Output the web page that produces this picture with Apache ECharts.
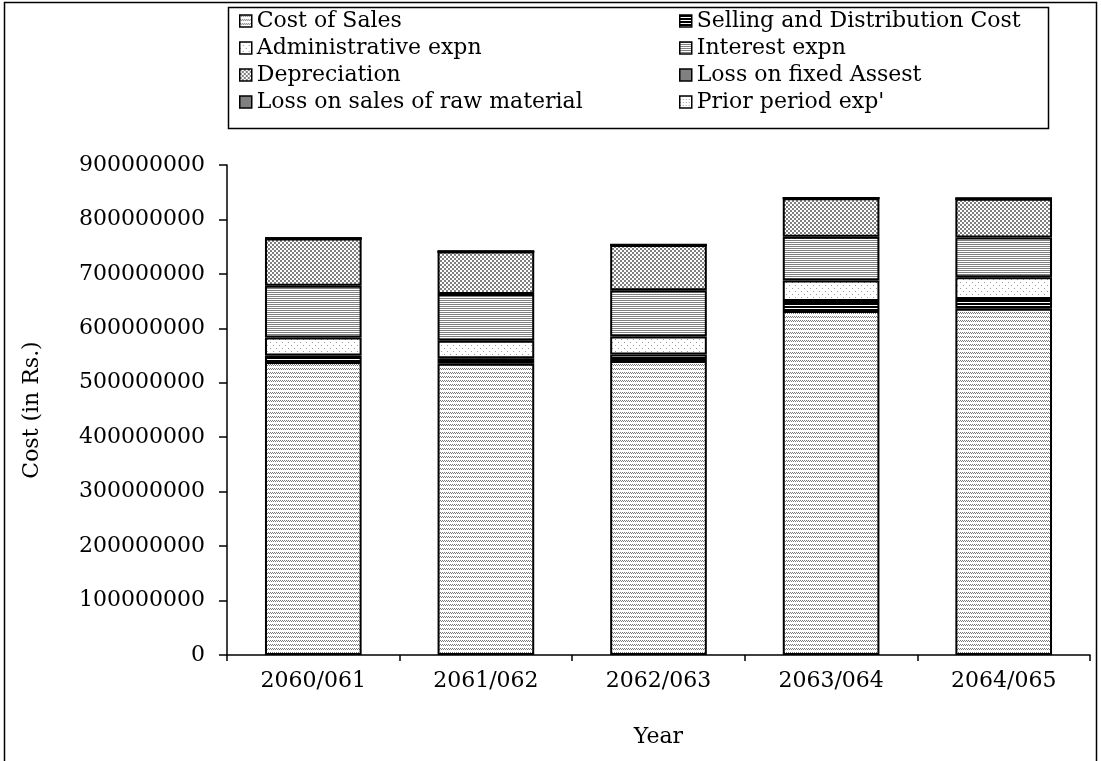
<!DOCTYPE html>
<html>
<head>
<meta charset="utf-8">
<script src="https://cdn.jsdelivr.net/npm/echarts@6/dist/echarts.min.js"></script>
<style>
html,body{margin:0;padding:0;background:#fff;}
#chart{width:1101px;height:761px;}
</style>
</head>
<body>
<div id="chart"></div>
<script>
const categories = ['2060/061', '2061/062', '2062/063', '2063/064', '2064/065'];
const costOfSales = [538000000, 535000000, 540000000, 632000000, 636000000];
const sellingDist = [12000000, 10000000, 12000000, 18000000, 18000000];
const adminExpn = [33000000, 32000000, 33000000, 38000000, 40000000];
const interestExpn = [95000000, 86000000, 85000000, 80000000, 73000000];
const depreciation = [87000000, 78000000, 83000000, 71000000, 71000000];
const lossFixedAsset = [200000, 200000, 200000, 300000, 300000];
const lossRawMaterial = [100000, 100000, 100000, 100000, 100000];
const priorPeriod = [100000, 100000, 100000, 200000, 200000];
const yTicks = [0, 100000000, 200000000, 300000000, 400000000, 500000000, 600000000, 700000000, 800000000, 900000000];

function pat(w, h, fn) {
  const c = document.createElement('canvas');
  c.width = w; c.height = h;
  const ctx = c.getContext('2d');
  ctx.fillStyle = '#fff';
  ctx.fillRect(0, 0, w, h);
  fn(ctx);
  return { image: c, repeat: 'repeat' };
}
const P = {
  cos: pat(4, 4, ctx => { ctx.fillStyle = '#7a7a7a'; ctx.fillRect(0,0,1,1); ctx.fillRect(2,0,1,1); ctx.fillRect(1,1,1,1); ctx.fillRect(3,1,1,1); }),
  sell: pat(2, 3, ctx => { ctx.fillStyle = '#000'; ctx.fillRect(0,0,2,2); }),
  admin: pat(6, 6, ctx => { ctx.fillStyle = '#9a9a9a'; ctx.fillRect(0,0,1,1); ctx.fillRect(3,3,1,1); }),
  interest: pat(2, 2, ctx => { ctx.fillStyle = '#808080'; ctx.fillRect(0,0,2,1); }),
  dep: pat(4, 4, ctx => { ctx.fillStyle = '#808080'; ctx.fillRect(0,0,2,2); ctx.fillRect(2,2,2,2); }),
  fixed: '#808080',
  raw: '#808080',
  prior: pat(3, 3, ctx => { ctx.fillStyle = '#a0a0a0'; ctx.fillRect(0,0,1,1); })
};

const seriesDefs = [
  ['Cost of Sales', costOfSales, P.cos],
  ['Selling and Distribution Cost', sellingDist, P.sell],
  ['Administrative expn', adminExpn, P.admin],
  ['Interest expn', interestExpn, P.interest],
  ['Depreciation', depreciation, P.dep],
  ['Loss on fixed Assest', lossFixedAsset, P.fixed],
  ['Loss on sales of raw material', lossRawMaterial, P.raw],
  ["Prior period exp'", priorPeriod, P.prior]
];

const FONT = 'DejaVu Serif';
const FS = 22;
const chart = echarts.init(document.getElementById('chart'), null, { renderer: 'canvas' });

const legendCommon = {
  orient: 'vertical',
  top: 5,
  itemWidth: 12,
  itemHeight: 12,
  itemGap: 5,
  icon: 'rect',
  selectedMode: false,
  itemStyle: { borderColor: '#000', borderWidth: 1.5 },
  textStyle: { fontFamily: FONT, fontSize: FS, color: '#000', padding: [0, 0, 0, 0] }
};

chart.setOption({
  animation: false,
  backgroundColor: '#fff',
  legend: [
    Object.assign({}, legendCommon, { left: 234, data: ['Cost of Sales', 'Administrative expn', 'Depreciation', 'Loss on sales of raw material'] }),
    Object.assign({}, legendCommon, { left: 674, data: ['Selling and Distribution Cost', 'Interest expn', 'Loss on fixed Assest', "Prior period exp'"] })
  ],
  graphic: [
    { type: 'rect', shape: { x: 4.5, y: 2.5, width: 1092, height: 762 }, style: { fill: 'none', stroke: '#000', lineWidth: 1.5 }, silent: true },
    { type: 'rect', shape: { x: 228.5, y: 7.5, width: 820, height: 121 }, style: { fill: 'none', stroke: '#000', lineWidth: 1.5 }, silent: true }
  ],
  grid: { left: 227, right: 11, top: 165, bottom: 106 },
  xAxis: {
    type: 'category',
    data: categories,
    name: 'Year',
    nameLocation: 'middle',
    nameGap: 71,
    nameTextStyle: { fontFamily: FONT, fontSize: FS, color: '#000' },
    axisLine: { lineStyle: { color: '#000', width: 1.5 } },
    axisTick: { show: true, alignWithLabel: false, length: 6, lineStyle: { color: '#000', width: 1.5 } },
    axisLabel: { fontFamily: FONT, fontSize: FS, color: '#000', margin: 15 }
  },
  yAxis: {
    type: 'value',
    min: yTicks[0],
    max: yTicks[yTicks.length - 1],
    interval: yTicks[1] - yTicks[0],
    name: 'Cost (in Rs.)',
    nameLocation: 'middle',
    nameGap: 184,
    nameTextStyle: { fontFamily: FONT, fontSize: FS, color: '#000' },
    axisLine: { show: true, lineStyle: { color: '#000', width: 1.5 } },
    axisTick: { show: true, length: 8, lineStyle: { color: '#000', width: 1.5 } },
    splitLine: { show: false },
    axisLabel: { fontFamily: FONT, fontSize: FS, color: '#000', margin: 22, formatter: v => String(v) }
  },
  series: seriesDefs.map(([name, data, color]) => ({
    name: name,
    type: 'bar',
    stack: 'total',
    data: data,
    barWidth: '56%',
    itemStyle: { color: color, borderColor: '#000', borderWidth: 2 },
    emphasis: { disabled: true }
  }))
});
</script>
</body>
</html>
